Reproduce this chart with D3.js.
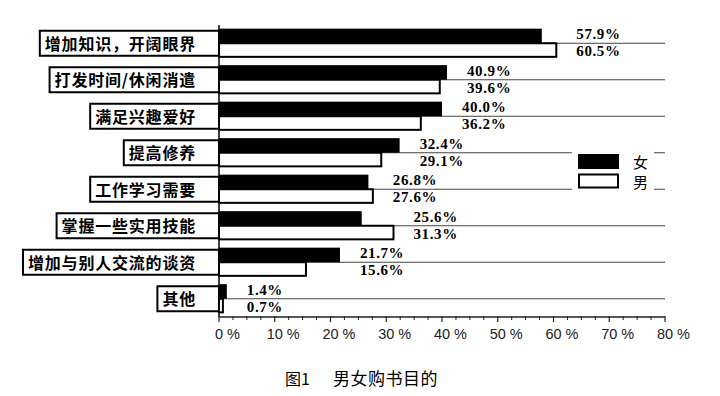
<!DOCTYPE html>
<html>
<head>
<meta charset="utf-8">
<script src="https://cdn.jsdelivr.net/npm/d3@7"></script>
<style>
  body { margin: 0; background: #fff; }
  #main { width: 720px; height: 396px; }
</style>
</head>
<body>
<div id="main"></div>
<script>
// data
const categories = ["增加知识，开阔眼界", "打发时间/休闲消遣", "满足兴趣爱好", "提高修养",
                    "工作学习需要", "掌握一些实用技能", "增加与别人交流的谈资", "其他"];
const female = [57.9, 40.9, 40.0, 32.4, 26.8, 25.6, 21.7, 1.4];
const male   = [60.5, 39.6, 36.2, 29.1, 27.6, 31.3, 15.6, 0.7];
const seriesNames = ["女", "男"];
const xTicks = [0, 10, 20, 30, 40, 50, 60, 70, 80];
const title = ["图1", "男女购书目的"];

const chartCtx = {
    WIDTH: 720,
    HEIGHT: 396,
    X0: 219,
    X1: 665,
    Y0: 25,
    Y1: 317,
    LINE_COLOR: "#444",
    CJK_FONT: "'Noto Sans CJK SC', sans-serif",
    NUM_FONT: "'Liberation Serif', 'Times New Roman', serif",
    TICK_FONT: "'Liberation Sans', Arial, sans-serif"
};

function drawChart() {
    let svg = d3.select("#main").append("svg")
        .attr("width", chartCtx.WIDTH)
        .attr("height", chartCtx.HEIGHT);

    let x = d3.scaleLinear().domain([0, 80]).range([chartCtx.X0, chartCtx.X1]);
    let y = d3.scaleBand().domain(categories)
        .range([chartCtx.Y0, chartCtx.Y1])
        .paddingInner(0.2)
        .paddingOuter(0.1);
    let sub = d3.scaleBand().domain(seriesNames).range([0, y.bandwidth()]);

    let rows = categories.map((c, i) => ({ cat: c, f: female[i], m: male[i] }));

    // gridlines through the middle of each group
    svg.append("g").selectAll("line")
        .data(rows)
        .join("line")
        .attr("x1", x(0)).attr("x2", x(80))
        .attr("y1", d => y(d.cat) + y.bandwidth() / 2)
        .attr("y2", d => y(d.cat) + y.bandwidth() / 2)
        .attr("stroke", chartCtx.LINE_COLOR)
        .attr("stroke-width", 1);

    // legend (white backing interrupts gridlines)
    let lg = svg.append("g");
    lg.append("rect").attr("x", 572).attr("y", 149).attr("width", 82).attr("height", 45).attr("fill", "#fff");
    seriesNames.forEach((s, i) => {
        lg.append("rect")
            .attr("x", 579).attr("y", 155 + i * 19.5)
            .attr("width", 39).attr("height", 13)
            .attr("fill", i === 0 ? "#000" : "#fff")
            .attr("stroke", "#000").attr("stroke-width", 2);
        lg.append("text")
            .attr("x", 633).attr("y", 168 + i * 19.5)
            .attr("font-family", chartCtx.CJK_FONT)
            .attr("font-size", 15)
            .text(s);
    });

    // bars
    let grp = svg.append("g").selectAll("g")
        .data(rows)
        .join("g")
        .attr("transform", d => `translate(0,${y(d.cat)})`);

    grp.append("rect")
        .attr("x", x(0)).attr("y", sub("女"))
        .attr("width", d => x(d.f) - x(0))
        .attr("height", sub.bandwidth())
        .attr("fill", "#000");

    grp.append("rect")
        .attr("x", x(0)).attr("y", sub("男"))
        .attr("width", d => x(d.m) - x(0))
        .attr("height", sub.bandwidth() - 1)
        .attr("fill", "#fff")
        .attr("stroke", "#000")
        .attr("stroke-width", 2);

    // value labels
    grp.append("text")
        .attr("x", d => x(Math.max(d.f, d.m)) + 20)
        .attr("y", y.bandwidth() / 2 - 4)
        .attr("font-family", chartCtx.NUM_FONT)
        .attr("font-weight", "bold")
        .attr("font-size", 15)
        .attr("letter-spacing", 0.6)
        .text(d => d.f.toFixed(1) + "%");

    grp.append("text")
        .attr("x", d => x(Math.max(d.f, d.m)) + 20)
        .attr("y", y.bandwidth() / 2 + 13)
        .attr("font-family", chartCtx.NUM_FONT)
        .attr("font-weight", "bold")
        .attr("font-size", 15)
        .attr("letter-spacing", 0.6)
        .text(d => d.m.toFixed(1) + "%");

    // category labels in boxes
    let lab = svg.append("g").selectAll("g")
        .data(rows)
        .join("g")
        .attr("transform", d => `translate(0,${y(d.cat) + y.bandwidth() / 2})`);

    let boxes = lab.append("rect")
        .attr("fill", "#fff")
        .attr("stroke", "#000")
        .attr("stroke-width", 2);

    let texts = lab.append("text")
        .attr("x", 196)
        .attr("y", 6.5)
        .attr("text-anchor", "end")
        .attr("font-family", chartCtx.CJK_FONT)
        .attr("font-weight", 700)
        .attr("font-size", 16)
        .attr("letter-spacing", 0.8)
        .text(d => d.cat);

    texts.each(function(d, i) {
        let bb = this.getBBox();
        d3.select(boxes.nodes()[i])
            .attr("x", bb.x - 5)
            .attr("y", -12.5)
            .attr("width", x(0) - (bb.x - 5))
            .attr("height", 25);
    });

    // y axis line
    svg.append("line")
        .attr("x1", x(0)).attr("x2", x(0))
        .attr("y1", chartCtx.Y0).attr("y2", chartCtx.Y1)
        .attr("stroke", "#000").attr("stroke-width", 1.5);

    // x axis
    let axisY = chartCtx.Y1;
    let minor = d3.range(0, 80.1, 2.5).filter(v => v % 10 !== 0);
    let ax = svg.append("g").attr("transform", `translate(0,${axisY})`);
    ax.append("line")
        .attr("x1", x(0)).attr("x2", x(80))
        .attr("stroke", "#222").attr("stroke-width", 1.5);
    ax.selectAll("line.minor")
        .data(minor)
        .join("line")
        .attr("class", "minor")
        .attr("x1", d => x(d)).attr("x2", d => x(d))
        .attr("y1", -1).attr("y2", 3)
        .attr("stroke", "#222").attr("stroke-width", 1);
    ax.selectAll("line.major")
        .data(xTicks)
        .join("line")
        .attr("class", "major")
        .attr("x1", d => x(d)).attr("x2", d => x(d))
        .attr("y1", -1).attr("y2", 5)
        .attr("stroke", "#222").attr("stroke-width", 1.2);

    // tick labels: number centred on tick, " %" trailing
    ax.selectAll("text")
        .data(xTicks)
        .join("text")
        .attr("y", 22)
        .attr("font-family", chartCtx.TICK_FONT)
        .attr("font-size", 14.5)
        .attr("fill", "#222")
        .text(d => d + " %")
        .each(function(d) {
            let t = d3.select(this);
            t.text(String(d));
            let w = this.getComputedTextLength();
            t.text(d + " %").attr("x", x(d) - w / 2);
        });

    // caption
    svg.append("text")
        .attr("x", 285).attr("y", 385)
        .attr("font-family", chartCtx.CJK_FONT)
        .attr("font-size", 16)
        .text(title[0]);
    svg.append("text")
        .attr("x", 333).attr("y", 385)
        .attr("font-family", chartCtx.CJK_FONT)
        .attr("font-size", 17)
        .attr("letter-spacing", 0.5)
        .text(title[1]);
}

drawChart();
</script>
</body>
</html>
